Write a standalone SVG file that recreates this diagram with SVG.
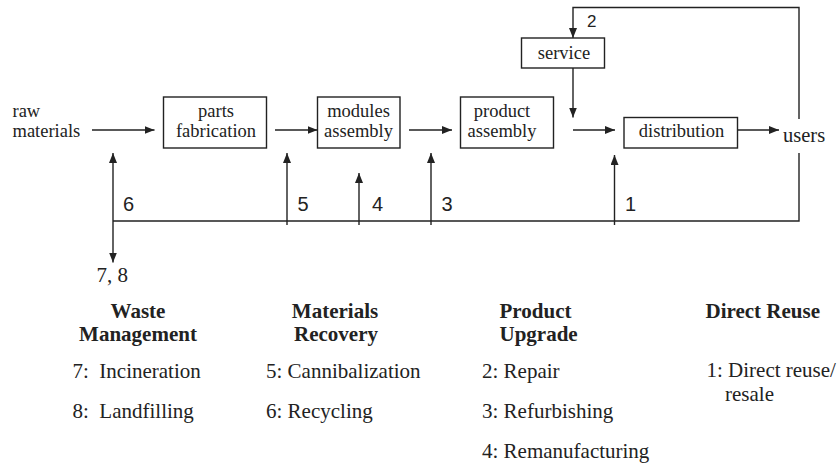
<svg xmlns="http://www.w3.org/2000/svg" width="838" height="464" viewBox="0 0 838 464">
  <style>
    .box { fill: #fff; stroke: #222; stroke-width: 1.4; }
    .ln { fill: none; stroke: #222; stroke-width: 1.4; }
    .arr { marker-end: url(#ah); }
    .lbl { font-family: "Liberation Serif", "Times New Roman", serif; font-size: 18.5px; fill: #222; }
    .mid { text-anchor: middle; }
    .num { font-family: "Liberation Sans", Arial, sans-serif; font-size: 20px; fill: #222; }
    .leg { font-family: "Liberation Serif", "Times New Roman", serif; font-size: 21px; fill: #222; }
    .hd { font-family: "Liberation Serif", "Times New Roman", serif; font-size: 21px; font-weight: bold; fill: #222; }
  </style>
  <defs>
    <marker id="ah" markerUnits="userSpaceOnUse" markerWidth="10" markerHeight="8" refX="10" refY="4" orient="auto">
      <path d="M0,0 L10,4 L0,8 Z" fill="#222"/>
    </marker>
  </defs>
  <rect width="838" height="464" fill="#fff"/>

  <g id="connectors">
    <!-- main production flow -->
    <path class="ln arr" d="M92,130 H154.5"/>
    <path class="ln arr" d="M275,130 H317.5"/>
    <path class="ln arr" d="M409,130 H452"/>
    <path class="ln arr" d="M573,130 H615"/>
    <path class="ln arr" d="M738,130 H779"/>
    <!-- service loop -->
    <path class="ln arr" d="M573,68 V117.5"/>
    <path class="ln arr" d="M799,119 V7.5 H573 V38"/>
    <!-- return line from users -->
    <path class="ln" d="M113,221 H799 V153"/>
    <path class="ln arr" d="M113,221 V153"/>
    <path class="ln arr" d="M113,221 V262.5"/>
    <path class="ln arr" d="M287,225 V153"/>
    <path class="ln arr" d="M359,225 V173"/>
    <path class="ln arr" d="M431,225 V153"/>
    <path class="ln arr" d="M614.5,225 V155"/>
  </g>

  <g id="raw-materials">
    <text class="lbl" x="12.5" y="117">raw</text>
    <text class="lbl" x="12.5" y="137">materials</text>
  </g>
  <g id="parts-fabrication">
    <rect class="box" x="163.5" y="97" width="103" height="51"/>
    <text class="lbl mid" x="216" y="117">parts</text>
    <text class="lbl mid" x="216" y="137">fabrication</text>
  </g>
  <g id="modules-assembly">
    <rect class="box" x="317.5" y="97" width="82.5" height="51"/>
    <text class="lbl mid" x="358.5" y="117">modules</text>
    <text class="lbl mid" x="358.5" y="137">assembly</text>
  </g>
  <g id="product-assembly">
    <rect class="box" x="460.5" y="97" width="93" height="51"/>
    <text class="lbl mid" x="502" y="117">product</text>
    <text class="lbl mid" x="502" y="137">assembly</text>
  </g>
  <g id="service">
    <rect class="box" x="521.5" y="38" width="83" height="30"/>
    <text class="lbl mid" x="564" y="58.5">service</text>
  </g>
  <g id="distribution">
    <rect class="box" x="624" y="117.5" width="113.5" height="30.5"/>
    <text class="lbl mid" x="681.5" y="137">distribution</text>
  </g>
  <g id="users">
    <text class="lbl" x="783" y="142" style="font-size:20.5px">users</text>
  </g>

  <g id="path-numbers">
    <text class="num" x="587" y="27" style="font-size:17px">2</text>
    <text class="num" x="123" y="211">6</text>
    <text class="num" x="297.5" y="211">5</text>
    <text class="num" x="372" y="211">4</text>
    <text class="num" x="441.5" y="211">3</text>
    <text class="num" x="625" y="211">1</text>
    <text class="leg" x="96.5" y="282">7, 8</text>
  </g>

  <g id="waste-management">
    <text class="hd mid" x="138" y="318">Waste</text>
    <text class="hd mid" x="138" y="341">Management</text>
    <text class="leg" x="72.5" y="378" xml:space="preserve">7:  Incineration</text>
    <text class="leg" x="72.5" y="418" xml:space="preserve">8:  Landfilling</text>
  </g>
  <g id="materials-recovery">
    <text class="hd mid" x="335" y="318">Materials</text>
    <text class="hd mid" x="336" y="341">Recovery</text>
    <text class="leg" x="266" y="378">5: Cannibalization</text>
    <text class="leg" x="266" y="418">6: Recycling</text>
  </g>
  <g id="product-upgrade">
    <text class="hd" x="499.5" y="318">Product</text>
    <text class="hd" x="499.5" y="341">Upgrade</text>
    <text class="leg" x="482" y="378">2: Repair</text>
    <text class="leg" x="482" y="418">3: Refurbishing</text>
    <text class="leg" x="482" y="458">4: Remanufacturing</text>
  </g>
  <g id="direct-reuse">
    <text class="hd" x="705.5" y="318">Direct Reuse</text>
    <text class="leg" x="706.5" y="377">1: Direct reuse/</text>
    <text class="leg" x="725" y="401">resale</text>
  </g>
</svg>
